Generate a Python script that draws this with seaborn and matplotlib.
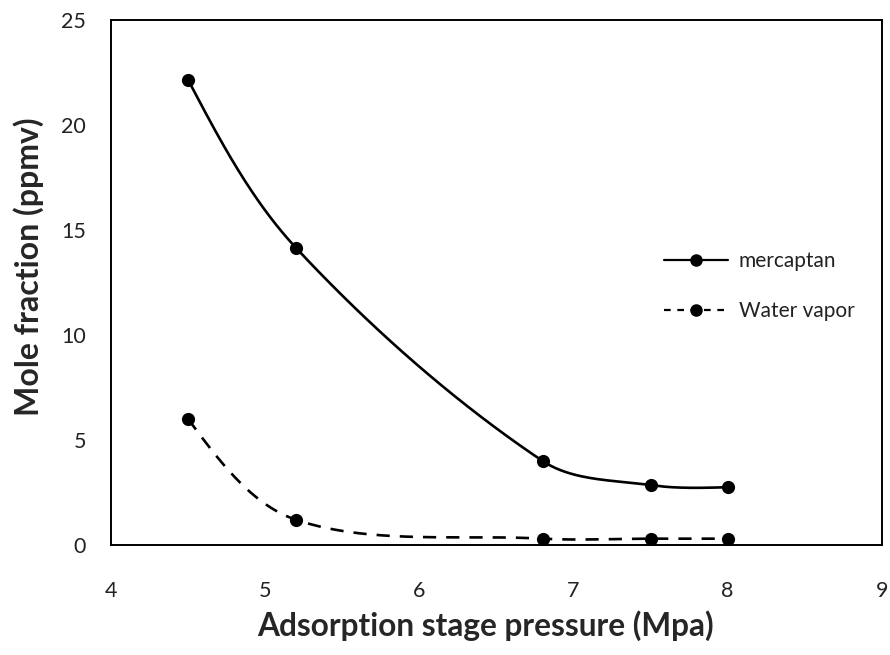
import numpy as np
import pandas as pd
import matplotlib
matplotlib.use("Agg")
import matplotlib.pyplot as plt
from matplotlib.lines import Line2D
import seaborn as sns

# Measured mole fractions at each adsorption stage pressure
pressure = [4.5, 5.2, 6.8, 7.5, 8.0]
mercaptan = [22.15, 14.15, 4.0, 2.85, 2.75]
water_vapor = [6.0, 1.2, 0.3, 0.3, 0.3]

x_ticks = [4, 5, 6, 7, 8, 9]
y_ticks = [0, 5, 10, 15, 20, 25]

# approximate screen scale (px per data unit) used for the curve smoothing
SX, SY = 154.2, 21.0


def smooth_curve(xs, ys, n=60):
    """Chord-weighted Bezier smoothing through the points, done in screen space."""
    p = np.column_stack([np.asarray(xs) * SX, np.asarray(ys) * SY]).astype(float)
    m = len(p)
    d = np.linalg.norm(np.diff(p, axis=0), axis=1)
    t = np.linspace(0, 1, n)
    out = []
    for i in range(m - 1):
        p1, p2 = p[i], p[i + 1]
        c1 = c2 = None
        if i > 0:
            tan = p2 - p[i - 1]
            c1 = p1 + tan * d[i] / (d[i - 1] + d[i]) / 3.0
        if i < m - 2:
            tan = p[i + 2] - p1
            c2 = p2 - tan * d[i] / (d[i] + d[i + 1]) / 3.0
        # free ends: aim the end handle at the inner handle for an even arc
        if c1 is None:
            c1 = p1 + ((c2 if c2 is not None else p2) - p1) * 0.5
        if c2 is None:
            c2 = p2 + (c1 - p2) * 0.5
        seg = ((1 - t) ** 3)[:, None] * p1 + (3 * (1 - t) ** 2 * t)[:, None] * c1 \
            + (3 * (1 - t) * t ** 2)[:, None] * c2 + (t ** 3)[:, None] * p2
        out.append(seg if i == 0 else seg[1:])
    arr = np.vstack(out)
    return arr[:, 0] / SX, arr[:, 1] / SY


sns.set_theme(style="white")
plt.rcParams["font.family"] = ["Lato", "DejaVu Sans"]

fig = plt.figure(figsize=(8.9, 6.55), dpi=100)
ax = fig.add_axes([0.1247, 0.168, 0.866, 0.8015])

dash = (0, (5, 3.8))
series = [("mercaptan", mercaptan, "-"), ("Water vapor", water_vapor, dash)]
for name, vals, ls in series:
    sx, sy = smooth_curve(pressure, vals)
    curve = pd.DataFrame({"x": sx, "y": sy})
    sns.lineplot(data=curve, x="x", y="y", ax=ax, color="black", lw=1.9,
                 linestyle=ls, sort=False, estimator=None)
    pts = pd.DataFrame({"x": pressure, "y": vals})
    sns.scatterplot(data=pts, x="x", y="y", ax=ax, color="black", s=90,
                    edgecolor="black", linewidth=0, zorder=5)

handles = [Line2D([], [], color="black", lw=1.6, ls="-", marker="o", ms=8),
           Line2D([], [], color="black", lw=1.6, ls=(0, (3, 3)), marker="o", ms=8)]
leg = ax.legend(handles, ["mercaptan", "Water vapor"], loc="center left",
                bbox_to_anchor=(0.693, 0.493), frameon=False, fontsize=15,
                handlelength=3.1, labelspacing=1.45, handletextpad=0.5)
for txt in leg.get_texts():
    txt.set_color("#222222")

ax.set_xlim(4, 9)
ax.set_ylim(0, 25)
ax.set_xticks(x_ticks)
ax.set_yticks(y_ticks)
ax.tick_params(axis="both", direction="in", length=7, width=1, color="#777777",
               labelsize=15.5, labelcolor="#222222")
ax.tick_params(axis="x", pad=26)
ax.tick_params(axis="y", pad=18)
for sp in ax.spines.values():
    sp.set_color("black")
    sp.set_linewidth(1.4)

ax.set_xlabel("Adsorption stage pressure (Mpa)", fontsize=22.8, fontweight="bold")
ax.xaxis.set_label_coords(0.486, -0.125)
ax.set_ylabel("Mole fraction (ppmv)", fontsize=23, fontweight="bold")
ax.yaxis.set_label_coords(-0.087, 0.53)

fig.savefig("out.png", dpi=100)
